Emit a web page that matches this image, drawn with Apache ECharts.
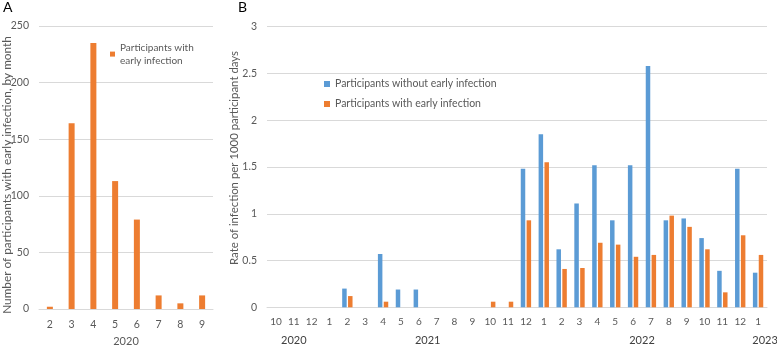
<!DOCTYPE html>
<html><head><meta charset="utf-8">
<script src="https://cdn.jsdelivr.net/npm/echarts@6/dist/echarts.min.js"></script>
<style>html,body{margin:0;padding:0;background:#fff}#c{width:777px;height:347px}</style>
</head><body><div id="c"></div>
<script>
// Panel A: participants with early infection, by month (2020)
const monthsA = ['2','3','4','5','6','7','8','9'];
const valuesA = [2, 164, 235, 113, 79, 12, 5, 12];
const yearA = '2020';
const titleA = 'Number of participants with early infection, by month';

// Panel B: rate of infection per 1000 participant days
const monthsB = ['10','11','12','1','2','3','4','5','6','7','8','9','10','11','12','1','2','3','4','5','6','7','8','9','10','11','12','1'];
const yearsB = ['2020','2021','2022','2023'];
const withoutEarly = [0,0,0,0,0.20,0,0.57,0.19,0.19,0,0,0,0,0,1.48,1.85,0.62,1.11,1.52,0.93,1.52,2.58,0.93,0.95,0.74,0.39,1.48,0.37];
const withEarly    = [0,0,0,0,0.12,0,0.06,0,0,0,0,0,0.06,0.06,0.93,1.55,0.41,0.42,0.69,0.67,0.54,0.56,0.98,0.86,0.62,0.16,0.77,0.56];
const titleB = 'Rate of infection per 1000 participant days';

const nameWithout = 'Participants without early infection';
const nameWith = 'Participants with early infection';

// year groups: a new year begins at month '1'
const yearCenters = {};
(function(){
  let start = 0, y = 0;
  for (let i = 1; i <= monthsB.length; i++) {
    if (i === monthsB.length || monthsB[i] === '1') {
      yearCenters[((start + i) / 2).toFixed(1)] = yearsB[y];
      y++; start = i;
    }
  }
})();
const lastYear = yearsB[yearsB.length - 1];

const FONT = 'Lato';
const GRAY = '#595959';
const GRID = '#d9d9d9';
const BLUE = '#5b9bd5';
const ORANGE = '#ed7d31';

const chart = echarts.init(document.getElementById('c'));
chart.setOption({
  animation: false,
  textStyle: { fontFamily: FONT },
  grid: [
    { left: 39, top: 26, width: 174, height: 283, outerBoundsMode: 'none' },
    { left: 267, top: 26.7, width: 500, height: 280.6, outerBoundsMode: 'none' }
  ],
  xAxis: [
    { gridIndex: 0, type: 'category', data: monthsA,
      axisLine: { lineStyle: { color: GRID } }, axisTick: { show: false },
      axisLabel: { color: GRAY, fontSize: 10.5, margin: 10, interval: 0 },
      name: yearA, nameLocation: 'middle', nameGap: 27,
      nameTextStyle: { color: GRAY, fontSize: 11 } },
    { gridIndex: 1, type: 'category', data: monthsB,
      axisLine: { lineStyle: { color: GRID } }, axisTick: { show: false },
      axisLabel: { color: GRAY, fontSize: 10, margin: 9, interval: 0 } },
    { gridIndex: 1, type: 'value', min: 0, max: monthsB.length, interval: 0.5,
      position: 'bottom', offset: 20,
      axisLine: { show: false }, axisTick: { show: false }, splitLine: { show: false },
      axisLabel: { color: '#404040', fontSize: 11, margin: 8,
        formatter: function (v) {
          const y = yearCenters[v.toFixed(1)];
          if (!y) return '';
          return y === lastYear ? '{e|' + y + '}' : y;
        },
        rich: { e: { color: '#404040', fontSize: 11, padding: [0, 0, 0, 14] } } } }
  ],
  yAxis: [
    { gridIndex: 0, type: 'value', min: 0, max: 250, interval: 50,
      axisLine: { show: false }, axisTick: { show: false },
      splitLine: { lineStyle: { color: GRID } },
      axisLabel: { color: GRAY, fontSize: 10.5, margin: 10 } },
    { gridIndex: 1, type: 'value', min: 0, max: 3, interval: 0.5,
      axisLine: { show: false }, axisTick: { show: false },
      splitLine: { lineStyle: { color: GRID } },
      axisLabel: { color: GRAY, fontSize: 10.5, margin: 10 } }
  ],
  legend: [
    { data: [nameWith], left: 110, top: 34, padding: 0, icon: 'rect',
      itemWidth: 5, itemHeight: 5, selectedMode: false,
      formatter: function () { return 'Participants with\nearly infection'; },
      textStyle: { color: GRAY, fontSize: 10, lineHeight: 13.4, padding: [13.4, 0, 0, 0] } },
    { data: [nameWithout, nameWith], left: 324, top: 78, padding: 0, orient: 'vertical',
      icon: 'rect', itemWidth: 6, itemHeight: 6, itemGap: 8, selectedMode: false,
      textStyle: { color: GRAY, fontSize: 10.5, lineHeight: 12 } }
  ],
  series: [
    { type: 'bar', name: nameWith, xAxisIndex: 0, yAxisIndex: 0, data: valuesA,
      barWidth: 6, itemStyle: { color: ORANGE } },
    { type: 'bar', name: nameWithout, xAxisIndex: 1, yAxisIndex: 1, data: withoutEarly,
      barWidth: 4.5, barGap: '30%', itemStyle: { color: BLUE } },
    { type: 'bar', name: nameWith, xAxisIndex: 1, yAxisIndex: 1, data: withEarly,
      barWidth: 4.5, barGap: '30%', itemStyle: { color: ORANGE } }
  ],
  graphic: [
    { type: 'text', left: 3, top: 0, style: { text: 'A', fontSize: 14, fill: '#000', fontFamily: FONT } },
    { type: 'text', left: 238, top: 0, style: { text: 'B', fontSize: 14, fill: '#000', fontFamily: FONT } },
    { type: 'text', x: 7, y: 175, rotation: Math.PI / 2,
      style: { text: titleA, fontSize: 11.8, fill: GRAY, fontFamily: FONT, align: 'center', verticalAlign: 'middle' } },
    { type: 'text', x: 234, y: 158, rotation: Math.PI / 2,
      style: { text: titleB, fontSize: 11.4, fill: GRAY, fontFamily: FONT, align: 'center', verticalAlign: 'middle' } }
  ]
});
</script></body></html>
